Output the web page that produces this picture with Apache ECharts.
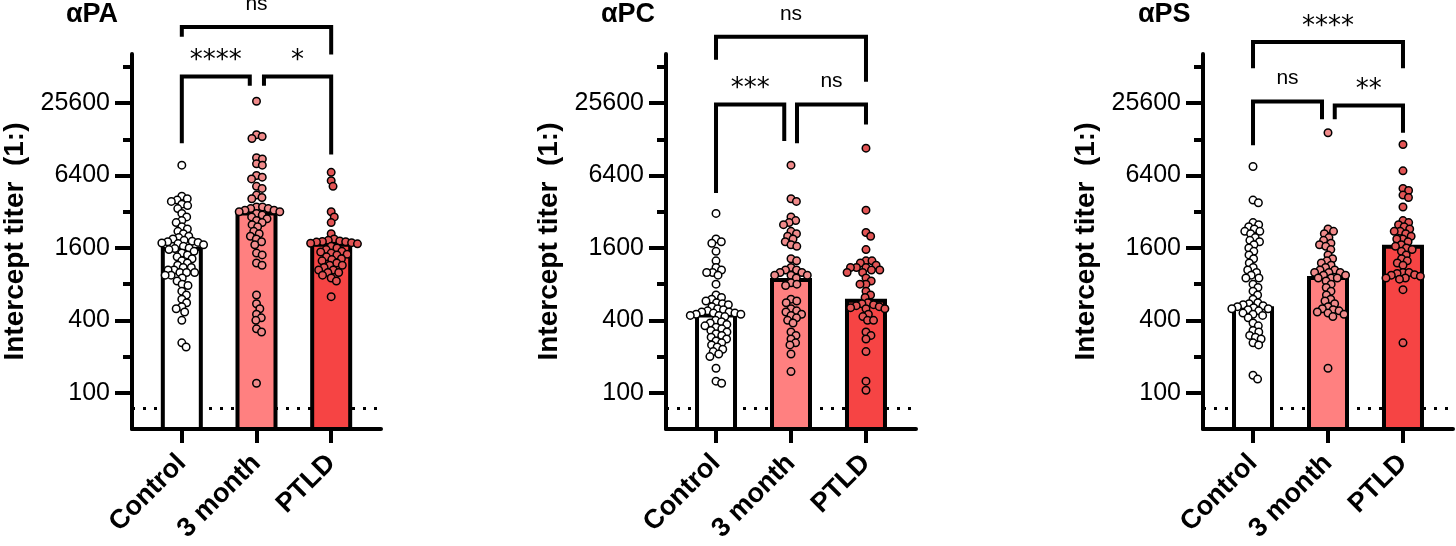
<!DOCTYPE html>
<html>
<head>
<meta charset="utf-8">
<script src="https://cdn.jsdelivr.net/npm/echarts@6/dist/echarts.min.js"></script>
<style>
  html, body { margin: 0; padding: 0; background: #fff; }
  #main { width: 1456px; height: 546px; }
</style>
</head>
<body>
<div id="main"></div>
<script>
var CATEGORIES = ['Control', '3 month', 'PTLD'];
var TITLES = ['αPA', 'αPC', 'αPS'];
var LABEL_TICKS = [100, 400, 1600, 6400, 25600];
var MINOR_TICKS = [100, 200, 400, 800, 1600, 3200, 6400, 12800, 25600, 51200];
var LOD = 75;
var Y_MIN = 50, Y_MAX = 65536;

// bar heights (titer)
var paBars = [1630, 3210, 1765];
var pcBars = [456, 900, 604];
var psBars = [524, 934, 1700];

// individual titers
var paControl = [7800, 4300, 4100, 4000, 3900, 3700, 3600, 3400, 3100, 2900, 2700, 2600, 2400, 2300, 2200, 2100, 2000, 1950, 1900, 1850, 1820, 1800, 1780, 1760, 1740, 1700, 1650, 1600, 1580, 1550, 1500, 1450, 1400, 1350, 1300, 1250, 1200, 1150, 1100, 1100, 1050, 1050, 1000, 1000, 1000, 950, 950, 900, 850, 800, 780, 700, 650, 600, 560, 520, 500, 470, 400, 260, 240];
var pa3Month = [26500, 14000, 13500, 13000, 9000, 8800, 8000, 7800, 6400, 6200, 6000, 5200, 5000, 4400, 4200, 4100, 3500, 3500, 3400, 3400, 3300, 3300, 3200, 3200, 3100, 3000, 2900, 2800, 2700, 2600, 2500, 2400, 2200, 2100, 2000, 1900, 1800, 1700, 1450, 1400, 1200, 1150, 650, 550, 500, 450, 420, 400, 340, 320, 120];
var paPtld = [6800, 5800, 5200, 3200, 2900, 2600, 2100, 1900, 1850, 1830, 1810, 1800, 1790, 1770, 1750, 1730, 1650, 1600, 1550, 1500, 1480, 1450, 1420, 1400, 1350, 1300, 1280, 1250, 1200, 1150, 1150, 1100, 1050, 1050, 1000, 1000, 950, 900, 850, 630];

var pcControl = [3100, 1900, 1800, 1750, 1500, 1250, 1100, 1050, 1000, 1000, 950, 800, 650, 620, 600, 580, 560, 550, 540, 520, 500, 490, 480, 470, 470, 460, 460, 450, 450, 440, 440, 430, 400, 390, 380, 370, 360, 350, 340, 330, 320, 310, 300, 290, 280, 270, 260, 250, 240, 230, 220, 210, 200, 160, 125, 120];
var pc3Month = [7800, 4100, 3900, 2900, 2700, 2600, 2500, 2200, 2100, 2000, 1900, 1800, 1700, 1650, 1300, 1250, 1100, 1050, 1050, 1000, 1000, 950, 950, 950, 900, 820, 800, 780, 600, 580, 560, 500, 480, 470, 450, 440, 420, 400, 380, 320, 300, 280, 260, 250, 210, 150];
var pcPtld = [10800, 3300, 2150, 2000, 1550, 1250, 1250, 1200, 1150, 1100, 1100, 1100, 1050, 1050, 1000, 1000, 900, 850, 800, 800, 700, 650, 620, 560, 550, 540, 530, 520, 510, 500, 500, 450, 430, 400, 400, 320, 300, 280, 220, 125, 105];

var psControl = [7600, 4000, 3800, 2600, 2500, 2400, 2300, 2200, 2200, 2100, 1950, 1850, 1800, 1700, 1600, 1500, 1400, 1300, 1200, 1100, 1050, 1000, 950, 900, 900, 800, 750, 700, 650, 600, 560, 550, 540, 530, 520, 510, 500, 500, 490, 480, 460, 450, 440, 420, 380, 360, 330, 320, 300, 290, 280, 260, 250, 140, 130];
var ps3Month = [14500, 2300, 2200, 2100, 1950, 1850, 1750, 1700, 1650, 1550, 1400, 1300, 1250, 1200, 1150, 1100, 1050, 1050, 1000, 1000, 1000, 950, 950, 900, 900, 900, 850, 800, 750, 700, 650, 600, 580, 550, 520, 500, 490, 480, 470, 460, 450, 430, 160];
var psPtld = [11600, 7000, 5000, 4800, 4400, 4200, 3500, 2700, 2600, 2500, 2400, 2300, 2200, 2200, 2100, 2000, 1900, 1900, 1800, 1700, 1650, 1600, 1550, 1500, 1400, 1300, 1250, 1200, 1150, 1000, 1000, 980, 960, 950, 930, 900, 900, 880, 720, 260];

// significance brackets: [from, to, bar titer, left leg end, right leg end, label]
var paBrackets = [[0, 2, 110000, 91000, 64800, 'ns'], [0, 0.91, 42700, 11900, 35700, '****'], [1.1, 2, 42700, 35700, 9570, '*']];
var pcBrackets = [[0, 2, 91000, 58700, 38600, 'ns'], [0, 0.91, 24900, 4580, 12400, '***'], [1.08, 2, 24900, 11900, 17000, 'ns']];
var psBrackets = [[0, 2, 82300, 50000, 50000, '****'], [0, 0.92, 26400, 11400, 18800, 'ns'], [1.09, 2, 24400, 18800, 14500, '**']];

var BAR_COLORS = ['#ffffff', '#ff8080', '#f64444'];
var DOT_COLORS = ['#ffffff', '#f08a8a', '#e25454'];
var FONT = '"Liberation Sans", Arial, sans-serif';

var GRID_LEFTS = [131, 666, 1203];
var GRID_TOP = 54, GRID_H = 375, GRID_W = 250;
var X_MIN = -0.667, X_MAX = 2.667;

var L = Math.log2;
var pxPerLog = GRID_H / (L(Y_MAX) - L(Y_MIN));
var pxPerCat = GRID_W / (X_MAX - X_MIN);

// simple beeswarm in pixel space
function swarm(values, gi, d) {
  var pts = values.map(function (v) { return { v: v, y: L(v) * pxPerLog }; })
    .sort(function (a, b) { return b.y - a.y; });
  var placed = [];
  pts.forEach(function (p) {
    var cands = [0];
    placed.forEach(function (q) {
      var dy = Math.abs(p.y - q.y);
      if (dy < d) {
        var dx = Math.sqrt(d * d - dy * dy);
        cands.push(q.x + dx, q.x - dx);
      }
    });
    cands.sort(function (a, b) { return Math.abs(a) - Math.abs(b); });
    for (var i = 0; i < cands.length; i++) {
      var c = cands[i];
      var ok = placed.every(function (q) {
        return (q.x - c) * (q.x - c) + (q.y - p.y) * (q.y - p.y) >= d * d - 0.01;
      });
      if (ok) { p.x = c; break; }
    }
    placed.push(p);
  });
  return placed.map(function (p) { return [gi + p.x / pxPerCat, L(p.v)]; });
}

var panels = [
  { title: TITLES[0], bars: paBars, groups: [paControl, pa3Month, paPtld], brackets: paBrackets },
  { title: TITLES[1], bars: pcBars, groups: [pcControl, pc3Month, pcPtld], brackets: pcBrackets },
  { title: TITLES[2], bars: psBars, groups: [psControl, ps3Month, psPtld], brackets: psBrackets }
];

var option = {
  backgroundColor: '#fff',
  animation: false,
  title: [], grid: [], xAxis: [], yAxis: [], series: []
};

panels.forEach(function (p, i) {
  var left = GRID_LEFTS[i];
  option.title.push({
    text: p.title, left: left - 65, top: 1, padding: 0,
    textStyle: { fontSize: 27, fontWeight: 'bold', color: '#000', fontFamily: FONT }
  });
  option.grid.push({ left: left, top: GRID_TOP, width: GRID_W, height: GRID_H });
  option.xAxis.push({
    gridIndex: i, type: 'value', min: X_MIN, max: X_MAX,
    splitLine: { show: false },
    axisLine: { onZero: false, lineStyle: { color: '#000', width: 4 } },
    axisTick: { customValues: [0, 1, 2], length: 14, lineStyle: { color: '#000', width: 4 } },
    axisLabel: {
      customValues: [0, 1, 2],
      formatter: function (v) { return CATEGORIES[Math.round(v)]; },
      rotate: 45, margin: 30, fontSize: 27, fontWeight: 'bold', color: '#000', fontFamily: FONT
    }
  });
  option.yAxis.push({
    gridIndex: i, type: 'value', position: 'left', min: L(Y_MIN), max: L(Y_MAX),
    splitLine: { show: false },
    axisLine: { show: true, onZero: false, lineStyle: { color: '#000', width: 4 } },
    axisTick: { customValues: LABEL_TICKS.map(L), length: 17, lineStyle: { color: '#000', width: 4 } },
    axisLabel: {
      customValues: LABEL_TICKS.map(L),
      formatter: function (v) { return String(Math.round(Math.pow(2, v))); },
      margin: 22, fontSize: 25, color: '#000', fontFamily: FONT
    },
    name: 'Intercept titer  (1:)', nameLocation: 'middle', nameGap: 103,
    nameTextStyle: { fontSize: 28, fontWeight: 'bold', color: '#000', fontFamily: FONT }
  });
  option.yAxis.push({
    gridIndex: i, type: 'value', position: 'left', offset: 0, min: L(Y_MIN), max: L(Y_MAX),
    splitLine: { show: false },
    axisLine: { show: false, onZero: false },
    axisTick: { show: true, customValues: MINOR_TICKS.map(L), length: 9, lineStyle: { color: '#000', width: 4 } },
    axisLabel: { show: false }
  });

  option.series.push({
    type: 'bar', xAxisIndex: i, yAxisIndex: 2 * i, z: 2, barWidth: 42,
    data: p.bars.map(function (v, k) {
      return { value: [k, L(v)], itemStyle: { color: BAR_COLORS[k] } };
    }),
    itemStyle: { borderColor: '#000', borderWidth: 4 },
    markLine: {
      z: 1, silent: true, symbol: 'none', label: { show: false },
      lineStyle: { color: '#000', width: 3, type: [3, 8] },
      data: [{ yAxis: L(LOD) }]
    }
  });

  p.groups.forEach(function (vals, k) {
    option.series.push({
      type: 'scatter', xAxisIndex: i, yAxisIndex: 2 * i, z: 3,
      symbolSize: 7.5,
      itemStyle: { color: DOT_COLORS[k], borderColor: '#000', borderWidth: 1.5, opacity: 1 },
      data: swarm(vals, k, 6)
    });
  });

  var br = p.brackets;
  option.series.push({
    type: 'custom', xAxisIndex: i, yAxisIndex: 2 * i, z: 4, clip: false,
    data: br.map(function (b) { return [b[0], b[1], L(b[2]), L(b[3]), L(b[4])]; }),
    encode: { x: [0, 1], y: [2, 3, 4] },
    renderItem: function (params, api) {
      var x1 = api.value(0), x2 = api.value(1);
      var yb = api.value(2), yl = api.value(3), yr = api.value(4);
      var a = api.coord([x1, yl]), b = api.coord([x1, yb]);
      var c = api.coord([x2, yb]), d = api.coord([x2, yr]);
      var txt = br[params.dataIndex][5];
      var stars = txt.indexOf('*') >= 0;
      return {
        type: 'group',
        children: [{
          type: 'polyline',
          shape: { points: [a, b, c, d] },
          style: { stroke: '#000', lineWidth: 4, fill: 'none', lineJoin: 'miter' }
        }, {
          type: 'text',
          style: {
            text: txt, x: (b[0] + c[0]) / 2, y: b[1] - (stars ? 15 : 23),
            align: 'center', verticalAlign: 'middle', fill: '#000',
            font: stars ? '26px "DejaVu Sans"' : '21px "Liberation Sans"'
          }
        }]
      };
    }
  });
});

var chart = echarts.init(document.getElementById('main'));
chart.setOption(option);
</script>
</body>
</html>
